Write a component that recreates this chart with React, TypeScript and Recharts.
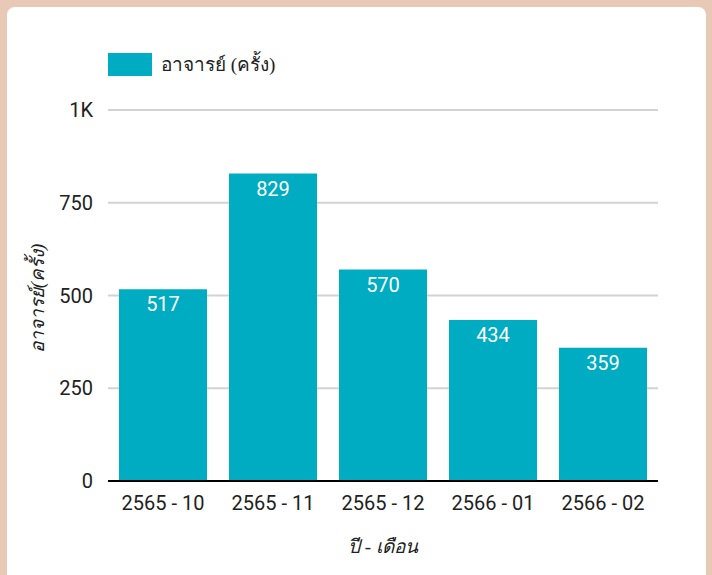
import { BarChart, Bar, XAxis, YAxis, CartesianGrid, LabelList, Label } from 'recharts';

const months = ['2565 - 10', '2565 - 11', '2565 - 12', '2566 - 01', '2566 - 02'];
const teacherCounts = [517, 829, 570, 434, 359];
const yTicks = [0, 250, 500, 750, 1000];

const seriesName = 'อาจารย์ (ครั้ง)';
const yTitle = 'อาจารย์(ครั้ง)';
const xTitle = 'ปี - เดือน';

const BAR_COLOR = '#00acc1';
const TEXT_COLOR = '#212121';
const PAGE_BG = '#e8c9b5';
const THAI_FONT = 'serif';

if (typeof document !== 'undefined') {
  document.body.style.margin = '0';
  document.body.style.background = PAGE_BG;
}

const data = months.map((m, i) => ({ month: m, count: teacherCounts[i] }));

const formatTick = (v: number) => (v >= 1000 ? `${v / 1000}K` : `${v}`);

function YTitle({ viewBox }: any) {
  const cx = viewBox.x + 37;
  const cy = viewBox.y + viewBox.height / 2 + 3;
  return (
    <text
      x={cx}
      y={cy}
      transform={`rotate(-90 ${cx} ${cy})`}
      textAnchor="middle"
      dominantBaseline="central"
      fontFamily={THAI_FONT}
      fontStyle="italic"
      fontSize={19}
      fill={TEXT_COLOR}
    >
      {yTitle}
    </text>
  );
}

function XTitle({ viewBox }: any) {
  return (
    <text
      x={viewBox.x + viewBox.width / 2}
      y={viewBox.y + 65}
      textAnchor="middle"
      dominantBaseline="central"
      fontFamily={THAI_FONT}
      fontStyle="italic"
      fontSize={19}
      fill={TEXT_COLOR}
    >
      {xTitle}
    </text>
  );
}

export default function App() {
  return (
    <div style={{ position: 'relative', width: 712, height: 575, backgroundColor: PAGE_BG, overflow: 'hidden' }}>
      <div style={{ position: 'absolute', left: 7, top: 7, width: 699, height: 620, backgroundColor: '#ffffff', borderRadius: 8 }} />

      {/* legend */}
      <div style={{ position: 'absolute', left: 108, top: 53, display: 'flex', alignItems: 'center' }}>
        <div style={{ width: 44, height: 23, backgroundColor: BAR_COLOR }} />
        <span style={{ marginLeft: 9, fontFamily: THAI_FONT, fontSize: 19, color: TEXT_COLOR, lineHeight: '23px' }}>
          {seriesName}
        </span>
      </div>

      <div style={{ position: 'absolute', left: 0, top: 0 }}>
        <BarChart
          width={712}
          height={575}
          data={data}
          margin={{ top: 110, right: 54, left: 0, bottom: 54 }}
          barCategoryGap="10%"
        >
          <CartesianGrid vertical={false} stroke="#d3d3d3" strokeWidth={2} />
          <YAxis
            width={108}
            domain={[0, 1000]}
            ticks={yTicks}
            tickFormatter={formatTick}
            axisLine={false}
            tickLine={false}
            tickSize={0}
            tickMargin={15}
            tick={{ fill: TEXT_COLOR, fontSize: 20, fontFamily: 'Roboto' }}
          >
            <Label content={<YTitle />} />
          </YAxis>
          <XAxis
            dataKey="month"
            height={40}
            axisLine={{ stroke: '#000', strokeWidth: 2 }}
            tickLine={false}
            tickSize={0}
            tickMargin={15}
            interval={0}
            tick={{ fill: TEXT_COLOR, fontSize: 20, fontFamily: 'Roboto' }}
          >
            <Label content={<XTitle />} />
          </XAxis>
          <Bar dataKey="count" name={seriesName} fill={BAR_COLOR} isAnimationActive={false}>
            <LabelList
              dataKey="count"
              position="insideTop"
              offset={8}
              fill="#fff"
              fontSize={20}
              fontFamily="Roboto"
            />
          </Bar>
        </BarChart>
      </div>
    </div>
  );
}
